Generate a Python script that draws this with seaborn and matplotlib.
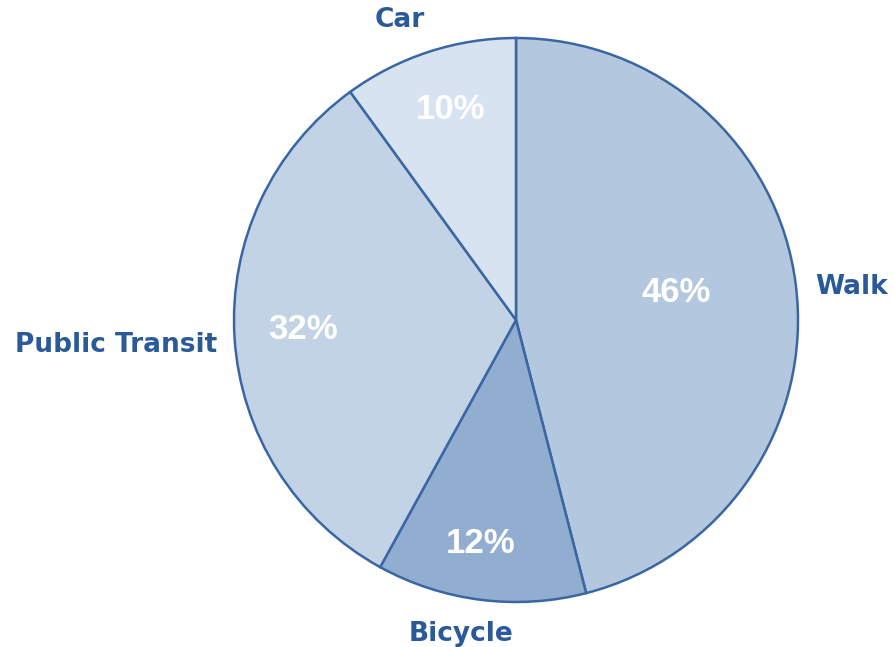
import numpy as np
import seaborn as sns
import matplotlib
matplotlib.use("Agg")
import matplotlib.pyplot as plt

# =========================================
# DATA
# =========================================

modes = ["Walk", "Bicycle", "Public Transit", "Car"]
shares = [46, 12, 32, 10]
pct_labels = ["46%", "12%", "32%", "10%"]

# colours / positions (data units, radius = 1)
slice_colors = ["#b3c7df", "#91aed0", "#c2d3e6", "#d8e3f1"]
name_pos = [(1.19, 0.117), (-0.195, -1.113), (-1.418, -0.089), (-0.411, 1.064)]
pct_pos = [(0.567, 0.096), (-0.124, -0.794), (-0.755, -0.035), (-0.234, 0.745)]

edge_color = "#3a66a3"
text_color = "#2b5a9b"

# =========================================
# PLOT
# =========================================

sns.set_theme(style="white")
plt.rcParams['font.family'] = ['DejaVu Sans']

fig = plt.figure(figsize=(8.95, 6.47), dpi=100)

ax = fig.add_axes([(516 - 282) / 895, (647 - 320 - 282) / 647, 564 / 895, 564 / 647])

ax.pie(
    shares,
    colors=slice_colors,
    startangle=90,
    counterclock=False,
    radius=1,
    wedgeprops=dict(edgecolor=edge_color, linewidth=1.8)
)

for name, (x, y) in zip(modes, name_pos):
    ax.text(x, y, name, ha='center', va='center',
            fontsize=19, fontweight='bold', color=text_color)

for lab, (x, y) in zip(pct_labels, pct_pos):
    ax.text(x, y, lab, ha='center', va='center',
            fontsize=25, fontweight='bold', color='white',
            family=['Liberation Sans', 'DejaVu Sans'])

ax.set_xlim(-1, 1)
ax.set_ylim(-1, 1)
ax.set_aspect('equal')
ax.axis('off')

fig.savefig("out.png", dpi=100)
